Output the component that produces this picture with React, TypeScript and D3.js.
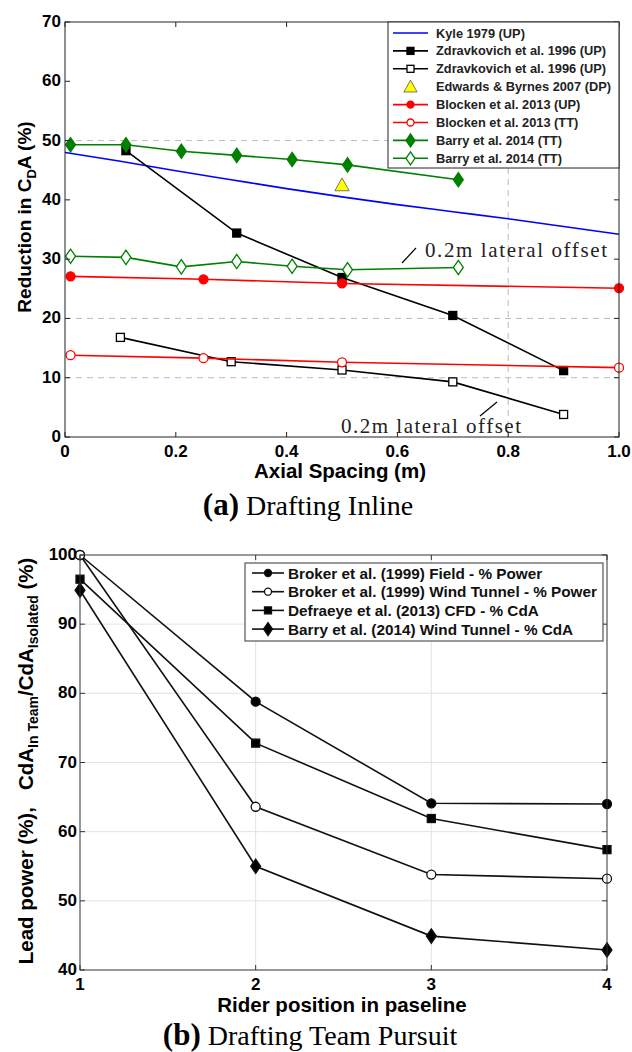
import React, { useEffect, useRef } from 'react';
import * as d3 from 'd3';

// ---- (a) Drafting Inline ----
const kyleX = [0, 0.1, 0.2, 0.3, 0.4, 0.5, 0.6, 0.7, 0.8, 0.9, 1.0];
const kyleY = [48, 46.5, 44.9, 43.4, 41.9, 40.5, 39.2, 38.0, 36.8, 35.5, 34.2];
const zdravUpX = [0.11, 0.31, 0.5, 0.7, 0.9];
const zdravUpY = [48.3, 34.4, 26.9, 20.5, 11.2];
const zdravOffX = [0.1, 0.3, 0.5, 0.7, 0.9];
const zdravOffY = [16.8, 12.7, 11.3, 9.3, 3.8];
const edwardsX = [0.5];
const edwardsY = [42.5];
const blockenUpX = [0.01, 0.25, 0.5, 1.0];
const blockenUpY = [27.1, 26.6, 25.9, 25.1];
const blockenTtX = [0.01, 0.25, 0.5, 1.0];
const blockenTtY = [13.8, 13.3, 12.6, 11.7];
const barryX = [0.01, 0.11, 0.21, 0.31, 0.41, 0.51, 0.71];
const barryY = [49.3, 49.3, 48.2, 47.5, 46.8, 45.9, 43.4];
const barryOffY = [30.5, 30.3, 28.7, 29.6, 28.8, 28.2, 28.6];
const topLegend = [
  'Kyle 1979 (UP)',
  'Zdravkovich et al. 1996 (UP)',
  'Zdravkovich et al. 1996 (UP)',
  'Edwards & Byrnes 2007 (DP)',
  'Blocken et al. 2013 (UP)',
  'Blocken et al. 2013 (TT)',
  'Barry et al. 2014 (TT)',
  'Barry et al. 2014 (TT)',
];
const topXTicks = [0, 0.2, 0.4, 0.6, 0.8, 1.0];
const topYTicks = [0, 10, 20, 30, 40, 50, 60, 70];

// ---- (b) Drafting Team Pursuit ----
const riders = [1, 2, 3, 4];
const brokerField = [100, 78.8, 64.1, 64.0];
const brokerTunnel = [100, 63.6, 53.8, 53.2];
const defraeye = [96.5, 72.8, 61.9, 57.4];
const barryTeam = [94.9, 55.0, 44.9, 42.9];
const bottomLegend = [
  'Broker et al. (1999) Field - % Power',
  'Broker et al. (1999) Wind Tunnel - % Power',
  'Defraeye et al. (2013) CFD - % CdA',
  'Barry et al. (2014) Wind Tunnel - % CdA',
];
const bottomYTicks = [40, 50, 60, 70, 80, 90, 100];

const SANS = 'Liberation Sans, Arial, sans-serif';
const SERIF = 'Liberation Serif, DejaVu Serif, serif';
const BLUE = '#0000ff';
const RED = '#ff0000';
const GREEN = '#008000';
const TICK_FS = 17;

type Marker = 'none' | 'square' | 'circle' | 'diamond' | 'triangle';

function drawMarker(g: any, kind: Marker, x: number, y: number, fill: string, stroke: string, size: number) {
  if (kind === 'square') {
    g.append('rect').attr('x', x - size / 2).attr('y', y - size / 2).attr('width', size).attr('height', size)
      .attr('fill', fill).attr('stroke', stroke).attr('stroke-width', 1.3);
  } else if (kind === 'circle') {
    g.append('circle').attr('cx', x).attr('cy', y).attr('r', size / 2)
      .attr('fill', fill).attr('stroke', stroke).attr('stroke-width', 1.3);
  } else if (kind === 'diamond') {
    const h = size * 0.65;
    const w = size * 0.45;
    g.append('path').attr('d', `M${x},${y - h}L${x + w},${y}L${x},${y + h}L${x - w},${y}Z`)
      .attr('fill', fill).attr('stroke', stroke).attr('stroke-width', 1.3);
  } else if (kind === 'triangle') {
    const h = size * 0.55;
    g.append('path').attr('d', `M${x},${y - h}L${x + h},${y + h * 0.8}L${x - h},${y + h * 0.8}Z`)
      .attr('fill', fill).attr('stroke', '#555').attr('stroke-width', 0.8);
  }
}

export default function App() {
  const svgRef = useRef<SVGSVGElement>(null);

  useEffect(() => {
    const svg = d3.select(svgRef.current);
    svg.selectAll('*').remove();

    // ================= (a) =================
    const a = { left: 65, right: 619, top: 22, bottom: 437 };
    const xA = d3.scaleLinear().domain([0, 1]).range([a.left, a.right]);
    const yA = d3.scaleLinear().domain([0, 70]).range([a.bottom, a.top]);
    const gA = svg.append('g');

    // dashed grid (only the visible ones)
    [10, 20, 50].forEach((v) => {
      gA.append('line').attr('x1', a.left).attr('x2', v === 50 ? 388 : a.right)
        .attr('y1', yA(v)).attr('y2', yA(v))
        .attr('stroke', '#bbbbbb').attr('stroke-width', 1).attr('stroke-dasharray', '6,5');
    });
    gA.append('line').attr('x1', xA(0.8)).attr('x2', xA(0.8)).attr('y1', 168).attr('y2', a.bottom)
      .attr('stroke', '#bbbbbb').attr('stroke-width', 1).attr('stroke-dasharray', '6,5');

    const lineA = (xs: number[], ys: number[], curve = d3.curveLinear) =>
      d3.line<number>().x((_, i) => xA(xs[i])).y((d) => yA(d)).curve(curve)(ys);

    const seriesA = [
      { xs: kyleX, ys: kyleY, color: BLUE, marker: 'none' as Marker, fill: BLUE, curve: d3.curveMonotoneX },
      { xs: zdravUpX, ys: zdravUpY, color: '#000', marker: 'square' as Marker, fill: '#000', curve: d3.curveLinear },
      { xs: zdravOffX, ys: zdravOffY, color: '#000', marker: 'square' as Marker, fill: '#fff', curve: d3.curveLinear },
      { xs: blockenUpX, ys: blockenUpY, color: RED, marker: 'circle' as Marker, fill: RED, curve: d3.curveLinear },
      { xs: blockenTtX, ys: blockenTtY, color: RED, marker: 'circle' as Marker, fill: '#fff', curve: d3.curveLinear },
      { xs: barryX, ys: barryY, color: GREEN, marker: 'diamond' as Marker, fill: GREEN, curve: d3.curveLinear },
      { xs: barryX, ys: barryOffY, color: GREEN, marker: 'diamond' as Marker, fill: '#fff', curve: d3.curveLinear },
    ];
    seriesA.forEach((s) => {
      gA.append('path').attr('d', lineA(s.xs, s.ys, s.curve)).attr('fill', 'none')
        .attr('stroke', s.color).attr('stroke-width', 1.6);
      if (s.marker !== 'none') {
        s.ys.forEach((v, i) => drawMarker(gA, s.marker, xA(s.xs[i]), yA(v), s.fill, s.color,
          s.marker === 'square' ? 8 : s.marker === 'circle' ? 9 : 11));
      }
    });
    edwardsY.forEach((v, i) => drawMarker(gA, 'triangle', xA(edwardsX[i]), yA(v), '#ffff00', '#555', 13));

    // annotations
    gA.append('line').attr('x1', 402).attr('y1', 263).attr('x2', 416).attr('y2', 248).attr('stroke', '#000').attr('stroke-width', 1.2);
    gA.append('text').attr('x', 425).attr('y', 257).attr('font-family', SERIF).attr('font-size', 21)
      .attr('textLength', 182).attr('lengthAdjust', 'spacing').attr('fill', '#222').text('0.2m lateral offset');
    gA.append('line').attr('x1', 480).attr('y1', 416).attr('x2', 497).attr('y2', 402).attr('stroke', '#000').attr('stroke-width', 1.2);
    gA.append('text').attr('x', 341).attr('y', 433).attr('font-family', SERIF).attr('font-size', 21)
      .attr('textLength', 180).attr('lengthAdjust', 'spacing').attr('fill', '#222').text('0.2m lateral offset');

    // axes box + ticks
    gA.append('rect').attr('x', a.left).attr('y', a.top).attr('width', a.right - a.left).attr('height', a.bottom - a.top)
      .attr('fill', 'none').attr('stroke', '#222').attr('stroke-width', 1);
    topXTicks.forEach((t) => {
      gA.append('line').attr('x1', xA(t)).attr('x2', xA(t)).attr('y1', a.bottom).attr('y2', a.bottom - 5).attr('stroke', '#222');
      gA.append('line').attr('x1', xA(t)).attr('x2', xA(t)).attr('y1', a.top).attr('y2', a.top + 5).attr('stroke', '#222');
      gA.append('text').attr('x', xA(t)).attr('y', a.bottom + 20).attr('text-anchor', 'middle')
        .attr('font-family', SANS).attr('font-weight', 'bold').attr('font-size', TICK_FS).text(t === 0 ? '0' : t.toFixed(1));
    });
    topYTicks.forEach((t) => {
      gA.append('line').attr('x1', a.left).attr('x2', a.left + 5).attr('y1', yA(t)).attr('y2', yA(t)).attr('stroke', '#222');
      gA.append('line').attr('x1', a.right).attr('x2', a.right - 5).attr('y1', yA(t)).attr('y2', yA(t)).attr('stroke', '#222');
      gA.append('text').attr('x', a.left - 4).attr('y', yA(t) + 5).attr('text-anchor', 'end')
        .attr('font-family', SANS).attr('font-weight', 'bold').attr('font-size', TICK_FS).text(String(t));
    });

    // legend (a)
    const legA = gA.append('g');
    legA.append('rect').attr('x', 388).attr('y', a.top).attr('width', a.right - 388).attr('height', 146)
      .attr('fill', '#fff').attr('stroke', '#222').attr('stroke-width', 1);
    const legStyles = [
      { color: BLUE, marker: 'none' as Marker, fill: BLUE },
      { color: '#000', marker: 'square' as Marker, fill: '#000' },
      { color: '#000', marker: 'square' as Marker, fill: '#fff' },
      { color: 'none', marker: 'triangle' as Marker, fill: '#ffff00' },
      { color: RED, marker: 'circle' as Marker, fill: RED },
      { color: RED, marker: 'circle' as Marker, fill: '#fff' },
      { color: GREEN, marker: 'diamond' as Marker, fill: GREEN },
      { color: GREEN, marker: 'diamond' as Marker, fill: '#fff' },
    ];
    topLegend.forEach((label, i) => {
      const y = 33 + i * 17.9;
      const st = legStyles[i];
      if (st.color !== 'none') {
        legA.append('line').attr('x1', 393).attr('x2', 428).attr('y1', y).attr('y2', y)
          .attr('stroke', st.color).attr('stroke-width', 1.6);
      }
      if (st.marker !== 'none') {
        drawMarker(legA, st.marker, 410.5, y, st.fill, st.color === 'none' ? '#555' : st.color,
          st.marker === 'triangle' ? 12 : st.marker === 'diamond' ? 10 : 7);
      }
      legA.append('text').attr('x', 436).attr('y', y + 4.5).attr('font-family', SANS).attr('font-weight', 'bold')
        .attr('font-size', 12.8).attr('fill', '#222').text(label);
    });

    // axis labels (a)
    gA.append('text').attr('x', 340).attr('y', 478).attr('text-anchor', 'middle').attr('font-family', SANS)
      .attr('font-weight', 'bold').attr('font-size', 20.5).text('Axial Spacing (m)');
    const ylA = gA.append('text').attr('transform', 'translate(31,217) rotate(-90)').attr('text-anchor', 'middle')
      .attr('font-family', SANS).attr('font-weight', 'bold').attr('font-size', 19);
    ylA.append('tspan').text('Reduction in C');
    ylA.append('tspan').attr('font-size', 13).attr('dy', 5).text('D');
    ylA.append('tspan').attr('dy', -5).text('A (%)');

    const capA = svg.append('text').attr('x', 308).attr('y', 515).attr('text-anchor', 'middle')
      .attr('font-family', SERIF).attr('font-size', 28);
    capA.append('tspan').attr('font-weight', 'bold').attr('font-size', 31).text('(a)');
    capA.append('tspan').text(' Drafting Inline');

    // ================= (b) =================
    const b = { left: 80, right: 607, top: 555, bottom: 970 };
    const xB = d3.scaleLinear().domain([1, 4]).range([b.left, b.right]);
    const yB = d3.scaleLinear().domain([40, 100]).range([b.bottom, b.top]);
    const gB = svg.append('g');

    // solid faint grid
    riders.slice(1, 3).forEach((t) => {
      gB.append('line').attr('x1', xB(t)).attr('x2', xB(t)).attr('y1', b.top).attr('y2', b.bottom)
        .attr('stroke', '#e2e2e2').attr('stroke-width', 1);
    });
    bottomYTicks.slice(1, 6).forEach((t) => {
      gB.append('line').attr('x1', b.left).attr('x2', b.right).attr('y1', yB(t)).attr('y2', yB(t))
        .attr('stroke', '#e2e2e2').attr('stroke-width', 1);
    });

    const lineB = d3.line<number>().x((_, i) => xB(riders[i])).y((d) => yB(d));
    const seriesB = [
      { ys: brokerField, marker: 'circle' as Marker, fill: '#000', size: 9 },
      { ys: brokerTunnel, marker: 'circle' as Marker, fill: '#fff', size: 9 },
      { ys: defraeye, marker: 'square' as Marker, fill: '#000', size: 8 },
      { ys: barryTeam, marker: 'diamond' as Marker, fill: '#000', size: 11 },
    ];
    seriesB.forEach((s) => {
      gB.append('path').attr('d', lineB(s.ys)).attr('fill', 'none').attr('stroke', '#111').attr('stroke-width', 1.6);
    });
    seriesB.forEach((s) => {
      s.ys.forEach((v, i) => drawMarker(gB, s.marker, xB(riders[i]), yB(v), s.fill, '#111', s.size));
    });

    gB.append('rect').attr('x', b.left).attr('y', b.top).attr('width', b.right - b.left).attr('height', b.bottom - b.top)
      .attr('fill', 'none').attr('stroke', '#333').attr('stroke-width', 1);
    riders.forEach((t) => {
      gB.append('line').attr('x1', xB(t)).attr('x2', xB(t)).attr('y1', b.bottom).attr('y2', b.bottom - 5).attr('stroke', '#333');
      gB.append('line').attr('x1', xB(t)).attr('x2', xB(t)).attr('y1', b.top).attr('y2', b.top + 5).attr('stroke', '#333');
      gB.append('text').attr('x', xB(t)).attr('y', b.bottom + 20).attr('text-anchor', 'middle')
        .attr('font-family', SANS).attr('font-weight', 'bold').attr('font-size', TICK_FS).text(String(t));
    });
    bottomYTicks.forEach((t) => {
      gB.append('line').attr('x1', b.left).attr('x2', b.left + 5).attr('y1', yB(t)).attr('y2', yB(t)).attr('stroke', '#333');
      gB.append('line').attr('x1', b.right).attr('x2', b.right - 5).attr('y1', yB(t)).attr('y2', yB(t)).attr('stroke', '#333');
      gB.append('text').attr('x', b.left - 3).attr('y', yB(t) + 5).attr('text-anchor', 'end')
        .attr('font-family', SANS).attr('font-weight', 'bold').attr('font-size', TICK_FS).text(String(t));
    });

    // legend (b)
    const legB = gB.append('g');
    legB.append('rect').attr('x', 245).attr('y', 563).attr('width', 358).attr('height', 78)
      .attr('fill', '#fff').attr('stroke', '#333').attr('stroke-width', 1);
    bottomLegend.forEach((label, i) => {
      const y = 573 + i * 18.7;
      const s = seriesB[i];
      legB.append('line').attr('x1', 252).attr('x2', 284).attr('y1', y).attr('y2', y).attr('stroke', '#111').attr('stroke-width', 1.6);
      drawMarker(legB, s.marker, 268, y, s.fill, '#111', s.marker === 'diamond' ? 10 : 7);
      legB.append('text').attr('x', 288).attr('y', y + 5.5).attr('font-family', SANS).attr('font-weight', 'bold')
        .attr('font-size', 15.3).attr('fill', '#111').text(label);
    });

    gB.append('text').attr('x', 342).attr('y', 1012).attr('text-anchor', 'middle').attr('font-family', SANS)
      .attr('font-weight', 'bold').attr('font-size', 20.5).text('Rider position in paseline');
    const ylB = gB.append('text').attr('transform', 'translate(33,761) rotate(-90)').attr('text-anchor', 'middle')
      .attr('font-family', SANS).attr('font-weight', 'bold').attr('font-size', 20.5);
    ylB.append('tspan').text('Lead power (%),\u00A0\u00A0\u00A0CdA');
    ylB.append('tspan').attr('font-size', 14).attr('dy', 5).text('In Team');
    ylB.append('tspan').attr('dy', -5).text('/CdA');
    ylB.append('tspan').attr('font-size', 14).attr('dy', 5).text('Isolated');
    ylB.append('tspan').attr('dy', -5).text(' (%)');

    const capB = svg.append('text').attr('x', 310).attr('y', 1045).attr('text-anchor', 'middle')
      .attr('font-family', SERIF).attr('font-size', 28);
    capB.append('tspan').attr('font-weight', 'bold').attr('font-size', 31).text('(b)');
    capB.append('tspan').text(' Drafting Team Pursuit');
  }, []);

  return (
    <svg ref={svgRef} width={632} height={1052}
      style={{ position: 'absolute', left: 0, top: 0, background: '#fff' }} />
  );
}
